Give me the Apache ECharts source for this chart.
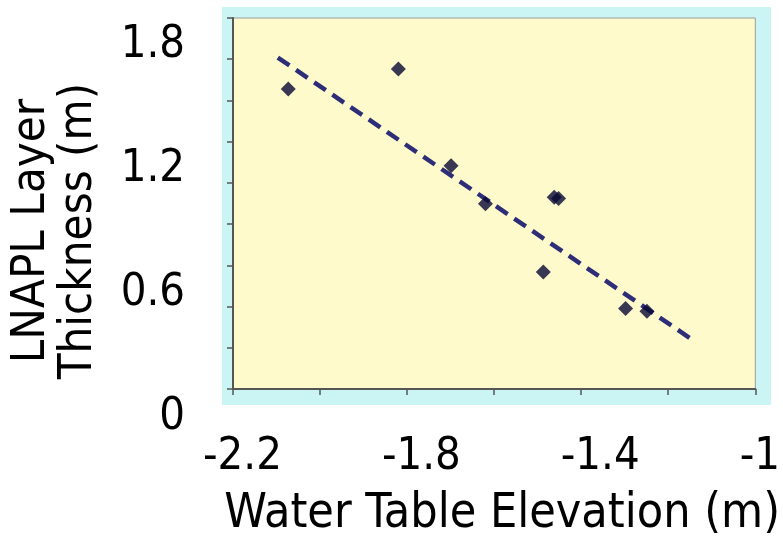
<!DOCTYPE html>
<html>
<head>
<meta charset="utf-8">
<script src="https://cdn.jsdelivr.net/npm/echarts@6/dist/echarts.min.js"></script>
<style>
html,body{margin:0;padding:0;background:#fff;}
#c{width:783px;height:544px;}
</style>
</head>
<body>
<div id="c"></div>
<script>
// Data
const waterTableElevation = [-2.073, -1.820, -1.699, -1.620, -1.462, -1.452, -1.487, -1.298, -1.249];
const lnaplThickness      = [ 1.456,  1.552,  1.083,  0.899,  0.930,  0.924,  0.568,  0.390,  0.377];
const trendX = [-2.097, -1.151];
const trendY = [ 1.608,  0.248];
const xTickLabels = ['-2.2', '-1.8', '-1.4', '-1'];
const yTickLabels = ['0', '0.6', '1.2', '1.8'];

const FONT = "'DejaVu Sans Condensed', 'DejaVu Sans', sans-serif";
const fmt = v => String(+(+v).toFixed(1));

const chart = echarts.init(document.getElementById('c'), null, {renderer: 'canvas'});
chart.setOption({
  animation: false,
  backgroundColor: '#ffffff',
  graphic: [{
    type: 'rect', z: -10, silent: true,
    shape: {x: 222, y: 7, width: 549, height: 398},
    style: {fill: '#CBF5F4'}
  }],
  grid: [
    {left: 233, top: 18, width: 525, height: 377, show: true,
     backgroundColor: '#FEFACB', borderColor: '#9a9a9a', borderWidth: 1},
    {left: 203, top: 45, width: 540, height: 372, show: false}
  ],
  xAxis: [
    {gridIndex: 0, type: 'value', min: -2.2, max: -1.0, interval: 0.2,
     axisLine: {show: true, onZero: false, lineStyle: {color: '#555', width: 2}},
     axisTick: {show: true, inside: false, length: 6, lineStyle: {color: '#555', width: 1.5}},
     axisLabel: {show: false}, splitLine: {show: false},
     name: 'Water Table Elevation (m)', nameLocation: 'middle', nameGap: 102,
     nameTextStyle: {fontFamily: FONT, fontSize: 48, lineHeight: 48, color: '#000', padding: [0,0,0,16]}},
    {gridIndex: 1, type: 'value', min: -2.2, max: -1.0, interval: 0.4,
     axisLine: {show: false}, axisTick: {show: false}, splitLine: {show: false},
     axisLabel: {show: true, showMinLabel: true, showMaxLabel: true, align: 'left', margin: 18,
       fontFamily: FONT, fontSize: 45, lineHeight: 45, color: '#000',
       formatter: v => { const s = fmt(v); return xTickLabels.includes(s) ? s : ''; }}}
  ],
  yAxis: [
    {gridIndex: 0, type: 'value', min: 0, max: 1.8, interval: 0.2,
     axisLine: {show: true, onZero: false, lineStyle: {color: '#555', width: 2}},
     axisTick: {show: true, inside: false, length: 6, lineStyle: {color: '#555', width: 1.5}},
     axisLabel: {show: false}, splitLine: {show: false}},
    {gridIndex: 1, type: 'value', min: 0, max: 1.8, interval: 0.6,
     axisLine: {show: false}, axisTick: {show: false}, splitLine: {show: false},
     axisLabel: {show: true, showMinLabel: true, showMaxLabel: true, align: 'right', margin: 18,
       fontFamily: FONT, fontSize: 45, lineHeight: 45, color: '#000',
       formatter: v => { const s = fmt(v); return yTickLabels.includes(s) ? s : ''; }},
     name: 'LNAPL Layer\nThickness (m)', nameLocation: 'middle', nameGap: 101, nameRotate: 90,
     nameTextStyle: {fontFamily: FONT, fontSize: 47, lineHeight: 47, color: '#000'}}
  ],
  series: [
    {type: 'line', xAxisIndex: 0, yAxisIndex: 0, symbol: 'none', silent: true,
     data: trendX.map((x, i) => [x, trendY[i]]),
     lineStyle: {color: '#2E2E78', width: 4.5, type: [14, 8]}, z: 2},
    {type: 'scatter', xAxisIndex: 0, yAxisIndex: 0, symbol: 'diamond', symbolSize: 15,
     data: waterTableElevation.map((x, i) => [x, lnaplThickness[i]]),
     itemStyle: {color: '#080833'}, z: 3}
  ]
});
</script>
</body>
</html>
